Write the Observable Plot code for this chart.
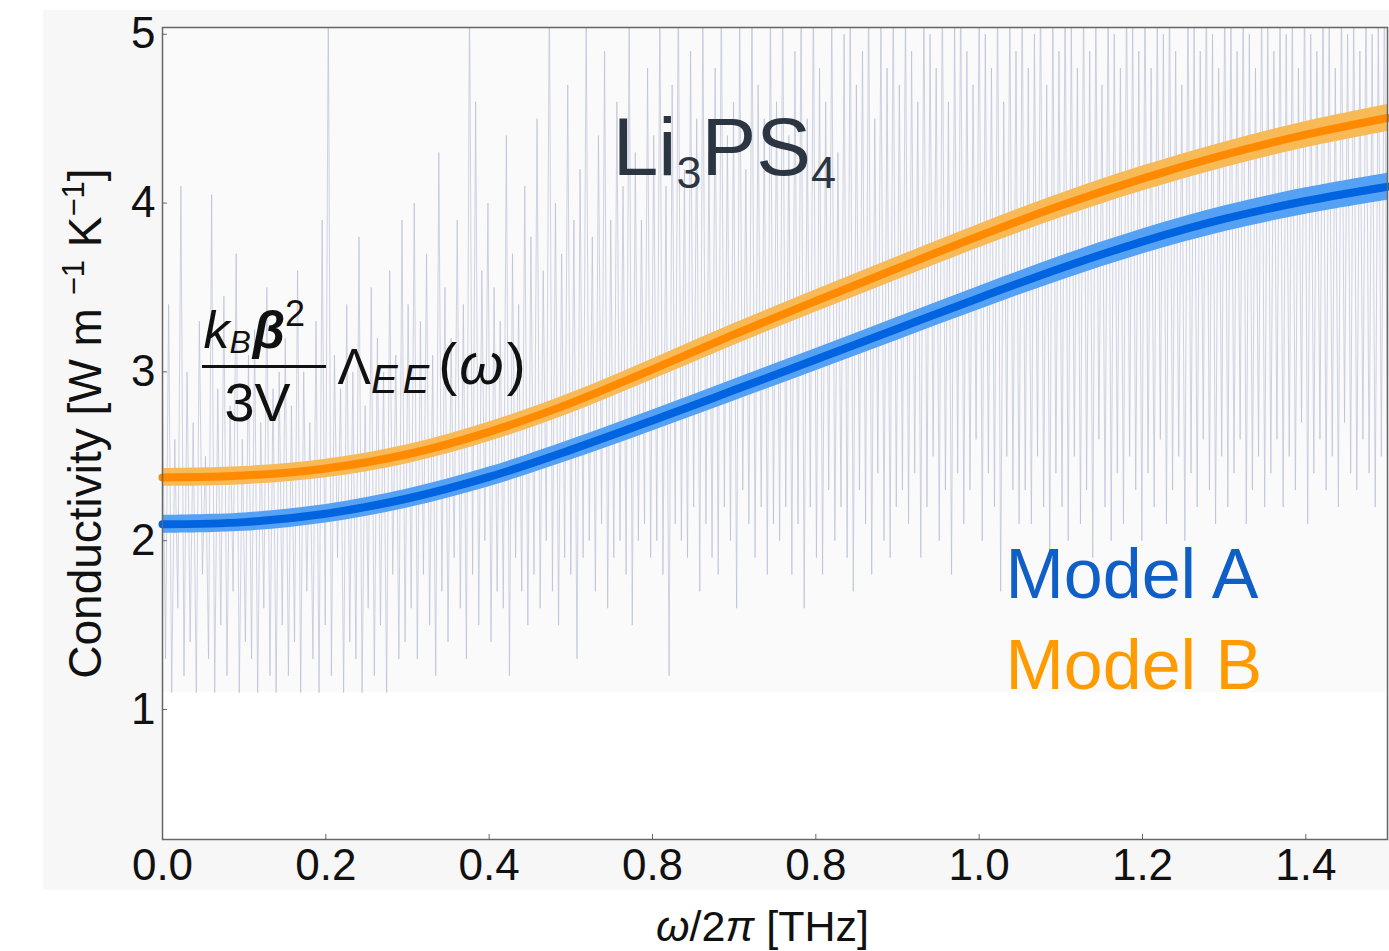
<!DOCTYPE html>
<html><head><meta charset="utf-8">
<script src="https://cdn.jsdelivr.net/npm/d3@7"></script>
<script src="https://cdn.jsdelivr.net/npm/@observablehq/plot@0.6"></script>
<style>
html,body{margin:0;padding:0;background:#fff;width:1389px;height:951px;overflow:hidden;}
#bg{position:absolute;left:43px;top:10px;width:1346px;height:880px;background:#f7f7f7;}
#chart{position:absolute;left:0;top:0;}
</style></head><body><div id="bg"></div><div id="chart"></div>
<script>
// ---- data ----
const freq   = [0,0.1,0.2,0.3,0.4,0.5,0.6,0.7,0.8,0.9,1.0,1.1,1.2,1.3,1.4,1.5];
const modelA = [2.097,2.110,2.160,2.250,2.378,2.538,2.712,2.892,3.073,3.256,3.438,3.614,3.772,3.906,4.012,4.097];
const modelB = [2.375,2.386,2.428,2.512,2.645,2.815,3.015,3.222,3.420,3.614,3.805,3.985,4.145,4.285,4.405,4.504];
const bandA  = [0.053,0.054,0.055,0.056,0.058,0.060,0.062,0.064,0.066,0.068,0.070,0.072,0.074,0.076,0.078,0.080];
const bandB  = [0.053,0.054,0.055,0.056,0.058,0.060,0.062,0.064,0.066,0.068,0.070,0.072,0.074,0.076,0.078,0.080];

const noiseHi = [
 2.9,3.4,2.6,4.1,3.0,2.7,3.3,2.5,4.05,2.9,3.45,2.8,3.7,2.6,3.1,3.25,2.7,3.5,2.9,3.0,
 3.2,2.8,3.6,3.0,2.7,3.3,3.9,5.2,3.1,2.9,3.4,3.0,3.8,2.8,3.5,3.2,3.0,3.6,3.1,3.9,
 3.4,4.0,3.3,3.7,3.1,4.3,3.5,3.2,3.9,3.4,5.3,4.6,3.6,4.0,3.5,3.3,4.4,3.7,3.4,4.1,
 3.8,4.5,3.6,5.3,4.0,3.7,4.7,3.9,4.2,5.1,3.8,4.4,4.9,3.9,4.6,4.1,5.2,4.3,3.9,4.8,
 4.4,5.2,4.1,4.7,5.3,4.2,4.9,4.5,5.2,4.3,4.8,5.3,4.4,4.6,5.1,4.2,5.3,4.7,4.5,5.2,
 4.6,5.3,4.4,4.9,5.2,4.5,5.3,4.8,4.6,5.2,4.3,5.0,5.3,4.7,4.9,5.3,4.5,5.1,4.8,5.3,
 4.7,5.2,4.9,4.6,5.3,5.0,4.8,5.3,4.6,5.1,5.3,4.9,4.7,5.3,5.0,4.8,5.3,4.6,5.2,4.9,
 5.3,4.8,5.0,5.3,4.7,5.2,4.9,5.3,5.1,4.8,5.3,4.9,5.2,4.7,5.3,5.0,4.8,5.3,5.1,4.9,
 5.3,4.8,5.2,5.0,5.3,4.9,4.7,5.3,5.1,4.9,5.3,5.0,4.8,5.3,5.2,4.9,5.3,5.0,4.8,5.3,
 5.1,4.9,5.3,5.0,5.2,4.8,5.3,5.0,4.9,5.3,5.1,4.8,5.3,5.0,5.2,4.9,5.3,5.0,5.1,5.3
];
const noiseLo = [
 1.3,1.1,1.6,1.2,1.4,1.1,1.8,1.3,1.1,1.5,1.2,1.7,1.1,1.4,1.3,1.1,1.6,1.2,1.1,1.5,
 1.2,1.4,1.1,1.7,1.3,1.1,1.5,1.2,1.9,1.1,1.4,1.3,1.1,1.6,1.2,1.5,1.1,1.8,1.3,1.4,
 1.6,1.3,1.8,1.5,1.2,1.7,1.4,1.9,1.6,1.3,1.8,1.5,2.0,1.4,1.7,1.6,1.2,1.9,1.7,1.5,
 1.8,1.6,2.0,1.7,1.5,1.9,1.8,1.3,1.9,2.0,1.7,2.1,1.6,1.9,2.0,1.8,1.5,2.0,2.1,1.9,
 2.0,1.8,1.2,2.1,2.0,1.9,2.2,1.7,2.1,1.9,1.8,2.2,2.0,1.6,2.3,2.1,1.9,2.2,1.8,2.1,
 2.0,2.2,1.8,2.1,1.6,2.2,1.9,1.8,2.3,2.0,2.2,1.9,1.7,2.3,2.1,1.8,2.4,2.0,1.9,2.2,
 2.3,2.1,2.4,1.9,2.2,2.5,2.0,2.3,1.8,2.4,2.1,2.3,2.6,2.0,2.4,2.2,1.7,2.5,2.3,2.1,
 2.3,2.1,2.5,2.2,1.9,2.4,2.2,2.0,2.5,2.1,2.3,1.9,2.6,2.2,2.0,2.4,2.1,2.5,2.3,2.0,
 2.4,2.2,2.6,2.1,2.3,2.5,2.0,2.4,2.2,2.6,2.3,2.1,2.5,2.2,2.4,2.6,2.1,2.3,2.5,2.2,
 2.4,2.6,2.2,2.5,2.3,2.7,2.1,2.4,2.6,2.3,2.5,2.2,2.7,2.4,2.3,2.6,2.4,2.2,2.5,2.4
];

const xTicks = [0,0.2,0.4,0.6,0.8,1.0,1.2,1.4];
const xTickLabels = ["0.0","0.2","0.4","0.8","0.8","1.0","1.2","1.4"];
const yTicks = [1,2,3,4,5];
const seriesNames = ["Model A","Model B"];
const seriesColors = {core: ["#0064e0","#ff8a00"], band: ["#55a2f4","#f7ba57"], label: ["#0f5fc6","#ff9b00"]};
const titleText = "Li3PS4";

// ---- build tables ----
const curves = [];
freq.forEach((f,i)=>{
  curves.push({f, y: modelA[i], lo: modelA[i]-bandA[i], hi: modelA[i]+bandA[i], s: 0});
  curves.push({f, y: modelB[i], lo: modelB[i]-bandB[i], hi: modelB[i]+bandB[i], s: 1});
});
const xMax = 1.5, yMin = 0.23, yMax = 5.04, panelFloor = 1.1;
const step = xMax / (noiseHi.length - 0.5);
const noise = [];
noiseHi.forEach((h,i)=>{ noise.push({f: i*step, y: h}); noise.push({f: (i+0.5)*step, y: noiseLo[i]}); });

const font = "'Liberation Sans', Arial, Helvetica, sans-serif";
const ann = [
  {x: 0.688, y: 4.169, t: titleText, size: 82, fill: "#2c3642", anchor: "middle"},
  {x: 0.0502, y: 3.144, t: "kBβ2", size: 52, fill: "#111", anchor: "start"},
  {x: 0.1163, y: 2.712, t: "3V", size: 54, fill: "#111", anchor: "middle"},
  {x: 0.2143, y: 2.931, t: "ΛEE(ω)", size: 50, fill: "#111", anchor: "start"},
  {x: 1.0322, y: 1.663, t: seriesNames[0], size: 70, fill: seriesColors.label[0], anchor: "start"},
  {x: 1.0322, y: 1.124, t: seriesNames[1], size: 70, fill: seriesColors.label[1], anchor: "start"},
  {x: 0.7347, y: -0.369, t: "ω/2π [THz]", size: 43, fill: "#111", anchor: "middle"}
];
const yLabel = [{x: -0.0759, y: 2.694, t: "Conductivity [W m −1 K −1]"}];

const panels = [
  {x1: 0, x2: xMax, y1: panelFloor, y2: yMax, fill: "#fafafa"},
  {x1: 0, x2: xMax, y1: yMin, y2: panelFloor, fill: "#ffffff"}
];

const svg = Plot.plot({
  width: 1389, height: 951,
  marginLeft: 162, marginRight: 2, marginTop: 27, marginBottom: 112,
  style: {background: "transparent", fontFamily: font, fontSize: "44px", color: "#111"},
  x: {domain: [0, xMax], label: null},
  y: {domain: [yMin, yMax], label: null},
  marks: [
    Plot.rect(panels, {x1: "x1", x2: "x2", y1: "y1", y2: "y2", fill: "fill"}),
    Plot.line(noise, {x: "f", y: "y", stroke: "#b6bcd6", strokeWidth: 1, strokeOpacity: 0.65, clip: true}),
    Plot.areaY(curves, {x: "f", y1: "lo", y2: "hi", z: "s", fill: d => seriesColors.band[d.s], curve: "catmull-rom"}),
    Plot.line(curves, {x: "f", y: "y", z: "s", stroke: d => seriesColors.core[d.s], strokeWidth: 8, curve: "catmull-rom"}),
    Plot.ruleY(yTicks, {x1: 0, x2: 0.006, stroke: "#666"}),
    Plot.ruleX(xTicks, {y1: yMin, y2: yMin + 0.03, stroke: "#666"}),
    Plot.ruleY([{y: 3.032, a: 0.049, b: 0.2008}], {y: "y", x1: "a", x2: "b", stroke: "#111", strokeWidth: 3}),
    Plot.axisX(xTicks, {tickFormat: d => xTickLabels[xTicks.indexOf(d)], tickSize: 0, tickPadding: 9, label: null}),
    Plot.axisY(yTicks, {tickSize: 0, tickPadding: 7, label: null, tickFormat: d => String(d)}),
    Plot.frame({stroke: "#666", strokeWidth: 1.5}),
    ...ann.map(a => Plot.text([a], {x: "x", y: "y", text: "t", fontSize: a.size, fill: a.fill, textAnchor: a.anchor, lineAnchor: "bottom"})),
    Plot.text(yLabel, {x: "x", y: "y", text: "t", fontSize: 46, rotate: -90, textAnchor: "middle", lineAnchor: "bottom", fill: "#111"})
  ]
});

const rich = {
  "Li3PS4": 'Li<tspan font-size="45" dy="13">3</tspan><tspan dy="-13">PS</tspan><tspan font-size="45" dy="13">4</tspan>',
  "kBβ2": '<tspan font-style="italic">k</tspan><tspan font-style="italic" font-size="32" dy="5">B</tspan><tspan font-style="italic" font-weight="bold" dy="-5" dx="2">β</tspan><tspan font-size="36" dy="-22">2</tspan>',
  "ΛEE(ω)": 'Λ<tspan font-style="italic" font-size="40" dy="9" letter-spacing="5">EE</tspan><tspan dy="-9" font-size="57" dx="4">(</tspan><tspan font-size="57" font-style="italic" dx="2">ω</tspan><tspan font-size="57" dx="3">)</tspan>',
  "ω/2π [THz]": '<tspan font-style="italic">ω</tspan>/2<tspan font-style="italic">π</tspan> [THz]',
  "Conductivity [W m −1 K −1]": 'Conductivity [W m <tspan font-size="31" dy="-17">−1</tspan><tspan dy="17"> K</tspan><tspan font-size="31" dy="-17">−1</tspan><tspan dy="17">]</tspan>'
};
d3.select(svg).selectAll("text").each(function(){
  const t = this.textContent;
  if (rich[t]) this.innerHTML = rich[t];
});
document.getElementById("chart").appendChild(svg);
</script>
</body></html>
